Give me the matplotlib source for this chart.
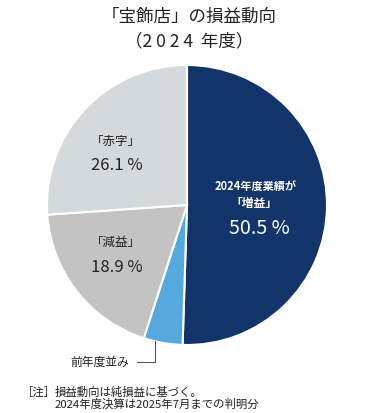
import matplotlib
matplotlib.use("Agg")
import matplotlib.pyplot as plt
import numpy as np

plt.rcParams['font.family'] = ['Noto Sans CJK JP', 'DejaVu Sans']

categories = ["増益", "前年度並み", "減益", "赤字"]
values = [50.5, 4.5, 18.9, 26.1]
colors = ["#13346a", "#56a9dc", "#c3c3c3", "#d3d9dd"]

title_lines = ["「宝飾店」の損益動向", "（2 0 2 4  年度）"]
note_lines = ["損益動向は純損益に基づく。", "2024年度決算は2025年7月までの判明分"]

W, H = 375, 414
fig = plt.figure(figsize=(W / 100, H / 100), dpi=100)
fig.patch.set_facecolor("white")

cx, cy, r = 187, 206, 140
ax = fig.add_axes([(cx - r) / W, (H - cy - r) / H, 2 * r / W, 2 * r / H])
wedges, _ = ax.pie(values, colors=colors, startangle=90, counterclock=False,
                   wedgeprops=dict(edgecolor="white", linewidth=1.5))
ax.set_xlim(-1, 1)
ax.set_ylim(-1, 1)
ax.set_aspect("equal")
ax.axis("off")

# labels
ax.text(-0.51, 0.46, "「赤字」", ha="center", va="center", fontsize=9, color="#222222")
ax.text(-0.50, 0.29, f"{values[3]} %", ha="center", va="center", fontsize=12, color="#222222")
ax.text(-0.51, -0.26, "「減益」", ha="center", va="center", fontsize=9, color="#222222")
ax.text(-0.50, -0.44, f"{values[2]} %", ha="center", va="center", fontsize=12, color="#222222")
ax.text(0.49, 0.13, "2024年度業績が", ha="center", va="center", fontsize=8, color="white", fontweight="bold")
ax.text(0.48, 0.02, "「増益」", ha="center", va="center", fontsize=8.5, color="white", fontweight="bold")
ax.text(0.52, -0.16, f"{values[0]} %", ha="center", va="center", fontsize=14.2, color="white")

# leader line for 前年度並み
w = wedges[1]
ang = np.deg2rad(w.theta1 + 0.3 * (w.theta2 - w.theta1))
lx = np.cos(ang)
ly = -np.sqrt(1 - lx ** 2)
ax.plot([lx, lx, -0.36], [ly, -1.12, -1.12], color="#555555", lw=0.8, clip_on=False)
ax.text(-0.41, -1.12, categories[1], ha="right", va="center", fontsize=8.5, color="#222222")

# title
fig.text(189 / W, 1 - 17 / H, title_lines[0], ha="center", va="center", fontsize=12.6, color="#222222")
fig.text(189 / W, 1 - 41 / H, title_lines[1], ha="center", va="center", fontsize=12.6, color="#222222")

# notes
fig.text(22 / W, 1 - 392 / H, "［注］", ha="left", va="center", fontsize=8.2, color="#222222")
fig.text(55 / W, 1 - 392 / H, note_lines[0], ha="left", va="center", fontsize=8.2, color="#222222")
fig.text(55 / W, 1 - 404 / H, note_lines[1], ha="left", va="center", fontsize=8.2, color="#222222")

fig.savefig("out.png", dpi=100, facecolor="white")
